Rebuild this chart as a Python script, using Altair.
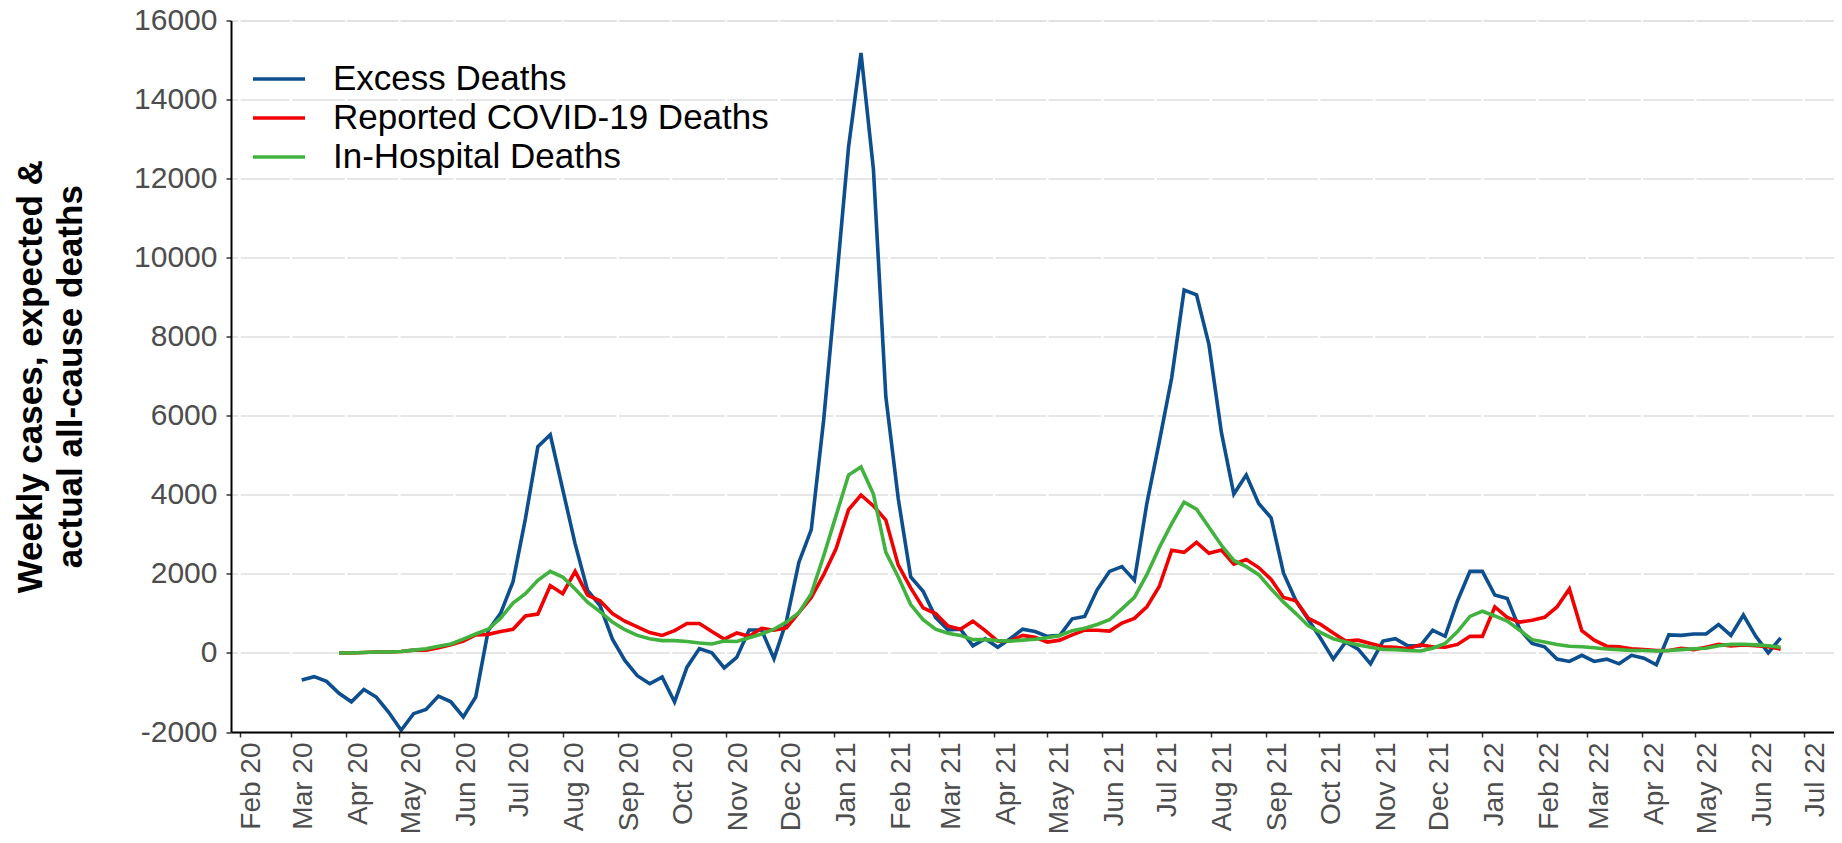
import altair as alt
import pandas as pd

# ---------------- data ----------------
first_week = "2020-03-07"          # first weekly point of the excess-deaths series
series_names = ["Excess Deaths", "Reported COVID-19 Deaths", "In-Hospital Deaths"]
series_colors = ["#0C4E8E", "#F00000", "#41B23E"]

excess = [
    -684, -600, -720, -1020, -1236, -924, -1116, -1500, -1956, -1536,
    -1428, -1092, -1236, -1620, -1116, 560, 1000, 1800, 3400, 5220,
    5520, 4140, 2760, 1580, 1200, 350, -190, -576, -780, -610,
    -1240, -360, 110, 5, -380, -115, 580, 580, -145, 800,
    2290, 3120, 5900, 9300, 12800, 15180, 12240, 6480, 3900, 1920,
    1560, 900, 580, 600, 180, 360, 144, 360, 600, 540,
    420, 444, 864, 924, 1596, 2064, 2184, 1836, 3780, 5340,
    6960, 9180, 9060, 7800, 5580, 4020, 4500, 3780, 3420, 2016,
    1320, 840, 360, -156, 276, 96, -276, 300, 360, 180,
    180, 576, 420, 1320, 2064, 2064, 1464, 1380, 600, 240,
    156, -156, -216, -60, -216, -156, -276, -60, -132, -300,
    456, 444, 480, 480, 720, 444, 960, 420, 0, 384,
]

# reported and in-hospital series start three weeks later
reported = [
    0, 0, 10, 24, 24, 36, 72, 72, 132, 204,
    300, 456, 470, 540, 600, 936, 984, 1704, 1500, 2064,
    1464, 1320, 996, 804, 660, 516, 444, 564, 744, 744,
    540, 350, 504, 420, 624, 576, 636, 1020, 1404, 1980,
    2640, 3624, 3996, 3720, 3360, 2220, 1644, 1140, 996, 684,
    600, 804, 564, 300, 300, 444, 396, 276, 324, 456,
    576, 576, 552, 756, 876, 1164, 1680, 2600, 2544, 2796,
    2520, 2604, 2244, 2364, 2160, 1860, 1404, 1320, 876, 720,
    504, 300, 324, 240, 156, 144, 108, 204, 156, 144,
    216, 420, 420, 1164, 900, 780, 828, 900, 1164, 1620,
    564, 324, 170, 156, 108, 84, 60, 60, 120, 84,
    144, 216, 180, 204, 180, 156, 96,
]

hospital = [
    0, 0, 10, 24, 24, 36, 72, 108, 168, 228,
    348, 480, 600, 880, 1260, 1500, 1836, 2064, 1920, 1620,
    1284, 1044, 780, 588, 444, 360, 312, 312, 288, 252,
    228, 300, 290, 384, 480, 600, 780, 1020, 1500, 2460,
    3480, 4500, 4704, 4020, 2544, 1920, 1224, 840, 600, 500,
    444, 336, 336, 312, 300, 324, 348, 384, 444, 564,
    624, 720, 840, 1116, 1404, 1980, 2664, 3270, 3816, 3636,
    3180, 2724, 2340, 2184, 1980, 1620, 1284, 996, 684, 516,
    360, 276, 204, 144, 90, 84, 60, 48, 120, 240,
    540, 924, 1056, 936, 804, 576, 336, 276, 216, 168,
    156, 132, 100, 84, 60, 60, 48, 60, 84, 108,
    120, 180, 216, 216, 204, 180, 144,
]

month_ticks = [
    "2020-02-01", "2020-03-01", "2020-04-01", "2020-05-01", "2020-06-01", "2020-07-01",
    "2020-08-01", "2020-09-01", "2020-10-01", "2020-11-01", "2020-12-01", "2021-01-01",
    "2021-02-01", "2021-03-01", "2021-04-01", "2021-05-01", "2021-06-01", "2021-07-01",
    "2021-08-01", "2021-09-01", "2021-10-01", "2021-11-01", "2021-12-01", "2022-01-01",
    "2022-02-01", "2022-03-01", "2022-04-01", "2022-05-01", "2022-06-01", "2022-07-01",
]

y_ticks = [-2000, 0, 2000, 4000, 6000, 8000, 10000, 12000, 14000, 16000]
y_title = ["Weekly cases, expected &", "actual all-cause deaths"]

# ---------------- build the long table ----------------
week_dates = [d.strftime("%Y-%m-%d") for d in pd.date_range(first_week, periods=len(excess), freq="7D")]
lag = len(excess) - len(reported)
rows = []
for d, v in zip(week_dates, excess):
    rows.append({"date": d, "value": v, "series": series_names[0]})
for d, v in zip(week_dates[lag:], reported):
    rows.append({"date": d, "value": v, "series": series_names[1]})
for d, v in zip(week_dates[lag:], hospital):
    rows.append({"date": d, "value": v, "series": series_names[2]})
df = pd.DataFrame(rows)
months_df = pd.DataFrame({"date": month_ticks})

W, H = 1603, 711.5
FONT = "Liberation Sans, Arial, Helvetica, sans-serif"

def dt(s, hours=0):
    y, m, d = (int(p) for p in s.split("-"))
    return alt.DateTime(year=y, month=m, date=d, hours=hours, utc=True)

x_scale = alt.Scale(type="utc", domain=[dt("2020-01-27", 4), dt("2022-07-18", 1)], nice=False)
y_scale = alt.Scale(domain=[y_ticks[0], y_ticks[-1]], nice=False, zero=False)

x_axis = alt.Axis(
    values=[dt(s) for s in month_ticks], format="%b %y", title=None, grid=False,
    labelAngle=270, labelAlign="right", labelBaseline="middle", labelOffset=12,
    labelPadding=5, labelFontSize=28, labelFont=FONT, labelColor="#4D4D4D",
    labelOverlap=False, labelFlush=False,
    tickSize=5, tickColor="#333333", tickWidth=1.5,
    domainColor="#000000", domainWidth=2, zindex=1,
)
y_axis = alt.Axis(
    values=y_ticks, labelExpr="'' + datum.value",
    labelFontSize=30, labelFont=FONT, labelColor="#4D4D4D", labelPadding=9,
    tickSize=5, tickColor="#333333", tickWidth=1.5,
    domainColor="#000000", domainWidth=2,
    grid=True, gridColor="#DEDEDE", gridWidth=1.5,
    title=y_title, titleFont=FONT, titleFontSize=35, titleFontWeight="bold",
    titleColor="#000000", titleAngle=270, titleAlign="center", titleBaseline="middle",
    titleX=-201, titleY=H / 2, titleLineHeight=40,
)

breaks = alt.Chart(months_df).mark_rule(color="white", strokeWidth=2.5).encode(
    x=alt.X("date:T", scale=x_scale, axis=x_axis),
    y=alt.value(0),
    y2=alt.value(H - 2),
)

lines = alt.Chart(df).mark_line(strokeWidth=3.6).encode(
    x=alt.X("date:T", scale=x_scale, axis=x_axis),
    y=alt.Y("value:Q", scale=y_scale, axis=y_axis),
    color=alt.Color(
        "series:N",
        scale=alt.Scale(domain=series_names, range=series_colors),
        sort=series_names,
        legend=alt.Legend(
            title=None, orient="none", legendX=20, legendY=39, direction="vertical",
            symbolType="stroke", symbolSize=2704, symbolStrokeWidth=3.5,
            labelFontSize=35, labelFont=FONT, labelColor="#000000", labelOffset=26,
            rowPadding=0, clipHeight=39, padding=0, labelLimit=1000,
        ),
    ),
    order=alt.Order("date:T"),
)

chart = alt.layer(breaks, lines).properties(
    width=W, height=H,
    autosize=alt.AutoSizeParams(type="none"),
    padding={"left": 223, "top": 12.5, "right": 0, "bottom": 103},
).configure_view(stroke=None).configure(background="white")

chart.save("out.html", embed_options={"renderer": "svg", "actions": False})
